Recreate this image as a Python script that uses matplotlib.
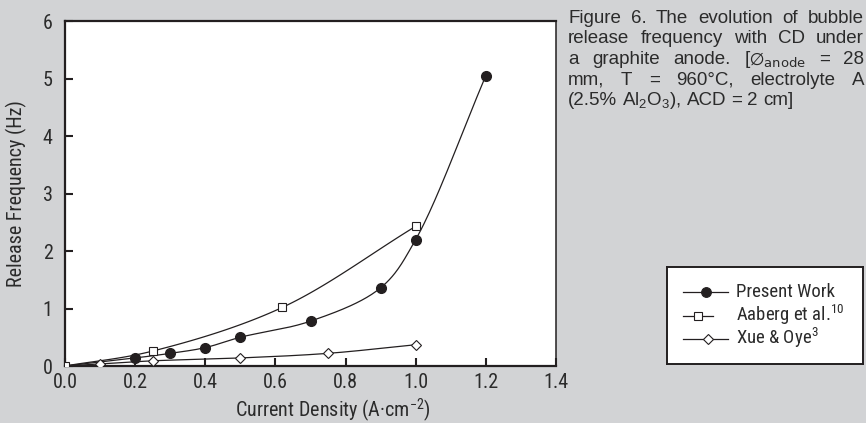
import numpy as np
import matplotlib
matplotlib.use('Agg')
import matplotlib.pyplot as plt
from matplotlib import font_manager as fm

# ---------------- data ----------------
present_x = [0.0, 0.2, 0.3, 0.4, 0.5, 0.7, 0.9, 1.0, 1.2]
present_y = [0.0, 0.14, 0.22, 0.32, 0.50, 0.78, 1.36, 2.20, 5.05]

aaberg_x = [0.0, 0.25, 0.62, 1.0]
aaberg_y = [0.0, 0.26, 1.02, 2.43]

xue_x = [0.0, 0.1, 0.25, 0.5, 0.75, 1.0]
xue_y = [0.0, 0.035, 0.09, 0.14, 0.22, 0.37]

x_ticks = [0.0, 0.2, 0.4, 0.6, 0.8, 1.0, 1.2, 1.4]
x_ticklabels = ['0.0', '0.2', '0.4', '0.6', '0.8', '1.0', '1.2', '1.4']
y_ticks = [0, 1, 2, 3, 4, 5, 6]
y_ticklabels = ['0', '1', '2', '3', '4', '5', '6']

legend_labels = ['Present Work', r'Aaberg et al.$^{10}$', r'Xue & Oye$^{3}$']

caption_lines = [
    ['Figure', '6.', 'The', 'evolution', 'of', 'bubble'],
    ['release', 'frequency', 'with', 'CD', 'under'],
    ['a', 'graphite', 'anode.', r'[$\varnothing_{\mathrm{anode}}$', '=', '28'],
    ['mm,', 'T', '=', '960°C,', 'electrolyte', 'A'],
    [r'(2.5%', r'Al$_2$O$_3$),', 'ACD', '=', '2', 'cm]'],
]

# ---------------- style ----------------
names = {f.name for f in fm.fontManager.ttflist}
FONT = 'Liberation Sans'
for cand in ['Roboto Condensed', 'Archivo Narrow', 'Liberation Sans Narrow']:
    if cand in names:
        FONT = cand
        break
CAPFONT = 'Liberation Sans'
plt.rcParams['font.family'] = [FONT, 'DejaVu Sans']
plt.rcParams['mathtext.fontset'] = 'custom'
plt.rcParams['mathtext.rm'] = FONT
plt.rcParams['mathtext.it'] = FONT + ':italic'
plt.rcParams['mathtext.default'] = 'regular'

BG = '#d2d3d5'
INK = '#231f20'
TXT = '#2b2b2b'
W, H = 866, 423
FS = 14.5


def catmull_rom(xs, ys, n=40):
    """Centripetal Catmull-Rom smoothing through the given points."""
    P = np.column_stack([xs, ys]).astype(float)
    S = np.array([350.7, 57.5])
    Q = P * S
    Q = np.vstack([2 * Q[0] - Q[1], Q, 2 * Q[-1] - Q[-2]])
    out = []
    for i in range(1, len(Q) - 2):
        p0, p1, p2, p3 = Q[i - 1], Q[i], Q[i + 1], Q[i + 2]
        t0 = 0.0
        t1 = t0 + np.linalg.norm(p1 - p0) ** 0.5
        t2 = t1 + np.linalg.norm(p2 - p1) ** 0.5
        t3 = t2 + np.linalg.norm(p3 - p2) ** 0.5
        t = np.linspace(t1, t2, n)[:, None]
        A1 = (t1 - t) / (t1 - t0) * p0 + (t - t0) / (t1 - t0) * p1
        A2 = (t2 - t) / (t2 - t1) * p1 + (t - t1) / (t2 - t1) * p2
        A3 = (t3 - t) / (t3 - t2) * p2 + (t - t2) / (t3 - t2) * p3
        B1 = (t2 - t) / (t2 - t0) * A1 + (t - t0) / (t2 - t0) * A2
        B2 = (t3 - t) / (t3 - t1) * A2 + (t - t1) / (t3 - t1) * A3
        C = (t2 - t) / (t2 - t1) * B1 + (t - t1) / (t2 - t1) * B2
        out.append(C if i == 1 else C[1:])
    C = np.vstack(out) / S
    return C[:, 0], C[:, 1]


fig = plt.figure(figsize=(W / 100, H / 100), dpi=100, facecolor=BG)

# main axes (pixel box: left 65, right 556, top 21, bottom 366)
L, R, T, B = 65, 556, 21, 366
ax = fig.add_axes([L / W, 1 - B / H, (R - L) / W, (B - T) / H])
ax.set_facecolor('white')
ax.set_xlim(0, 1.4)
ax.set_ylim(0, 6)

lw = 0.9
sx, sy = catmull_rom(xue_x, xue_y)
ax.plot(sx, sy, color=INK, lw=lw, zorder=2)
ax.plot(xue_x[1:], xue_y[1:], ls='none', marker='D', ms=4.6, mfc='white',
        mec=INK, mew=0.8, zorder=3)
sx, sy = catmull_rom(aaberg_x, aaberg_y)
ax.plot(sx, sy, color=INK, lw=lw, zorder=2)
ax.plot(aaberg_x, aaberg_y, ls='none', marker='s', ms=5.5, mfc='white',
        mec=INK, mew=0.8, zorder=3)
sx, sy = catmull_rom(present_x, present_y)
ax.plot(sx, sy, color=INK, lw=lw, zorder=2)
ax.plot(present_x[1:], present_y[1:], ls='none', marker='o', ms=7.0, mfc=INK,
        mec=INK, zorder=4)

for s in ax.spines.values():
    s.set_color(INK)
    s.set_linewidth(1.6)
ax.spines['right'].set_linewidth(1.1)

ax.set_xticks(x_ticks)
ax.set_xticklabels(x_ticklabels)
ax.set_yticks(y_ticks)
ax.set_yticklabels(y_ticklabels)
ax.tick_params(direction='in', length=6, width=1.5, color=INK,
               labelsize=FS, labelcolor=TXT)
ax.tick_params(axis='x', pad=5)
ax.tick_params(axis='y', pad=9)

ax.set_xlabel('Current Density (A·cm$^{-2}$)', fontsize=FS, color=TXT)
ax.xaxis.set_label_coords((333 - L) / (R - L), -0.088)
ax.set_ylabel('Release Frequency (Hz)', fontsize=FS, color=TXT)
ax.yaxis.set_label_coords(-0.078, 0.5)

# ---------------- legend (drawn in its own framed axes, pixel units) ----------------
lx0, ly0, lx1, ly1 = 667, 267, 863, 364
lax = fig.add_axes([lx0 / W, 1 - ly1 / H, (lx1 - lx0) / W, (ly1 - ly0) / H])
lax.set_xlim(0, lx1 - lx0)
lax.set_ylim(ly1 - ly0, 0)
lax.set_xticks([])
lax.set_yticks([])
lax.set_facecolor('white')
for s in lax.spines.values():
    s.set_color(INK)
    s.set_linewidth(1.4)

rows = [292 - ly0, 316 - ly0, 339 - ly0]
handles = [
    dict(x=(683, 728), m=706, marker='o', ms=7.0, mfc=INK),
    dict(x=(683, 713), m=698, marker='s', ms=5.5, mfc='white'),
    dict(x=(683, 728), m=708, marker='D', ms=4.6, mfc='white'),
]
LFS = 13.5
for yy, h, lab in zip(rows, handles, legend_labels):
    lax.plot([h['x'][0] - lx0, h['x'][1] - lx0], [yy, yy], color=INK, lw=lw)
    lax.plot([h['m'] - lx0], [yy], marker=h['marker'], ms=h['ms'], mfc=h['mfc'],
             mec=INK, mew=0.8, ls='none')
    lax.text(736 - lx0, yy + 5.2, lab, fontsize=LFS, color=TXT, va='baseline', ha='left')

# ---------------- caption (justified) ----------------
fig.canvas.draw()
rend = fig.canvas.get_renderer()
cx0, cx1 = 568, 864
baselines = [22.7, 43.3, 64.0, 84.7, 105.3]
cap_kw = dict(family=[CAPFONT, 'DejaVu Sans'], math_fontfamily='dejavusans')

# caption size: first line at natural spacing fills the 296 px column
probe = fig.text(0, 0, ' '.join(caption_lines[0]), fontsize=13, **cap_kw)
CFS = min(13.5, 13 * (cx1 - cx0 - 4) / probe.get_window_extent(rend).width)
probe.remove()
space = fig.text(0, 0, 'a a', fontsize=CFS, **cap_kw)
aa = fig.text(0, 0, 'aa', fontsize=CFS, **cap_kw)
sp_w = space.get_window_extent(rend).width - aa.get_window_extent(rend).width
space.remove()
aa.remove()
for i, (words, yb) in enumerate(zip(caption_lines, baselines)):
    texts = [fig.text(0, 0, w, fontsize=CFS, color=TXT, va='baseline', ha='left', **cap_kw)
             for w in words]
    widths = [t.get_window_extent(rend).width for t in texts]
    if i < len(caption_lines) - 1:
        gap = (cx1 - cx0 - sum(widths)) / (len(words) - 1)
    else:
        gap = sp_w
    x = cx0
    for t, w in zip(texts, widths):
        t.set_position((x / W, 1 - yb / H))
        x += w + gap

fig.savefig('out.png', dpi=100, facecolor=BG)
